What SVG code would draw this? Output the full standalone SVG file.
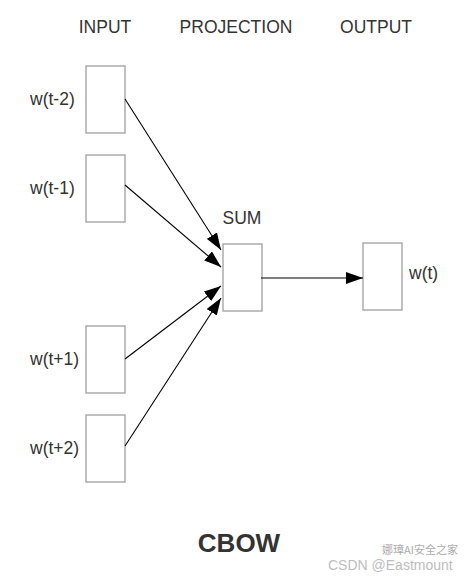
<svg xmlns="http://www.w3.org/2000/svg" width="469" height="578" viewBox="0 0 469 578">
<defs>
<marker id="ah" viewBox="0 0 17 12" refX="17" refY="6" markerWidth="17" markerHeight="12" markerUnits="userSpaceOnUse" orient="auto">
<path d="M0,0 L17,6 L0,12 Z" fill="#000"/>
</marker>
</defs>
<style>
.box{fill:#fff;stroke:#a6a6a6;stroke-width:1.4}
.t{font-family:"Liberation Sans",Arial,sans-serif;font-size:17.5px;fill:#333}
.c{stroke:#000;stroke-width:1.1;fill:none;marker-end:url(#ah)}
</style>
<rect width="469" height="578" fill="#fff"/>
<g id="headers">
<text class="t" x="105" y="33" text-anchor="middle">INPUT</text>
<text class="t" x="236" y="33" text-anchor="middle">PROJECTION</text>
<text class="t" x="376" y="33" text-anchor="middle">OUTPUT</text>
</g>
<g id="in1"><rect class="box" x="86" y="66" width="39" height="67"/><text class="t" x="30" y="105">w(t-2)</text></g>
<g id="in2"><rect class="box" x="86" y="155" width="39" height="67"/><text class="t" x="30" y="194">w(t-1)</text></g>
<g id="in3"><rect class="box" x="86" y="326" width="39" height="67"/><text class="t" x="30" y="365">w(t+1)</text></g>
<g id="in4"><rect class="box" x="86" y="415" width="39" height="67"/><text class="t" x="30" y="454">w(t+2)</text></g>
<g id="sum"><rect class="box" x="223" y="244" width="39" height="67"/><text class="t" x="242" y="224" text-anchor="middle">SUM</text></g>
<g id="out"><rect class="box" x="363" y="243" width="39" height="67"/><text class="t" x="409" y="279">w(t)</text></g>
<g id="connectors">
<line class="c" x1="125" y1="99" x2="221" y2="250"/>
<line class="c" x1="125" y1="185" x2="221" y2="267"/>
<line class="c" x1="125" y1="359" x2="221" y2="286"/>
<line class="c" x1="125" y1="446" x2="221" y2="298"/>
<line class="c" x1="261" y1="278" x2="363" y2="278"/>
</g>
<text x="239" y="552" text-anchor="middle" font-family="Liberation Sans,Arial,sans-serif" font-size="26" font-weight="bold" fill="#333">CBOW</text>
<g id="watermark" opacity="0.55">
<text x="382" y="554" font-family="Noto Sans CJK SC,sans-serif" font-size="11" fill="#666">娜璋AI安全之家</text>
<text x="328" y="570" font-family="Liberation Sans,Arial,sans-serif" font-size="14" fill="#888">CSDN @Eastmount</text>
</g>
</svg>
